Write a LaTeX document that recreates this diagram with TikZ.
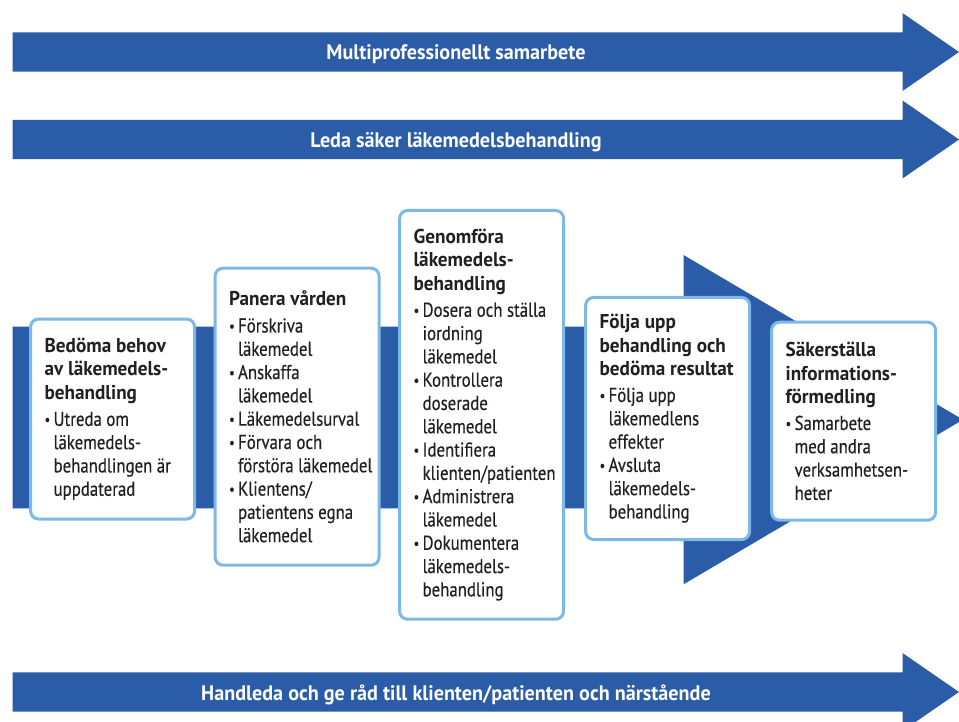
\documentclass[tikz,border=0pt]{standalone}
\usepackage{fontspec}
\setmainfont{PT Sans}[FakeStretch=0.84,
  UprightFeatures={FakeBold=0.4},
  BoldFeatures={FakeStretch=0.96}]
\usepackage{graphicx}
\usetikzlibrary{positioning}

\definecolor{flowblue}{HTML}{2A5CA8}
\definecolor{frameblue}{HTML}{7DB9E8}
\definecolor{inkblack}{HTML}{231F20}

% bullet and hanging indent for the lists in the boxes
\newcommand\itemdot{\makebox[9pt][l]{\raisebox{1.2pt}{\scalebox{0.75}{\textbullet}}}}
\newcommand\itemcont{\hspace*{9pt}}
% bold heading, then the list
\newcommand\steptext[2]{\makebox[136pt][l]{\parbox{190pt}{\raggedright
  {\bfseries #1}\\[3.3pt]#2}}}

\begin{document}
\begin{tikzpicture}[x=1pt, y=-1pt,
  band/.style={fill=flowblue},
  bandlabel/.style={anchor=base, inner sep=0pt, text=white,
    font=\fontsize{21}{24}\selectfont\bfseries},
  stepbox/.style={draw=frameblue, line width=3pt, fill=white,
    rounded corners=8pt, inner sep=0pt, minimum width=164pt,
    text=inkblack, font=\fontsize{20}{23.3}\selectfont}
]
\useasboundingbox (0,0) rectangle (959,722);
\clip (0,0) rectangle (959,722);

% three long bands with their heads
\foreach \y/\name/\txt in {52/samarbete/{Multiprofessionellt samarbete},
    139.5/leda/{Leda säker läkemedelsbehandling},
    692/handleda/{Handleda och ge råd till klienten/patienten och närstående}}{
  \fill[band] (12.5,\y-19.7) -- (902.5,\y-19.7) -- (902.5,\y-39) -- (959,\y)
    -- (902.5,\y+39) -- (902.5,\y+19.7) -- (12.5,\y+19.7) -- cycle;
  \node[bandlabel] (\name) at (456,\y+8) {\txt};
}

% the process arrow behind the boxes
\fill[band] (12.7,326.7) -- (683.5,326.7) -- (683.5,255) -- (963,419.7)
  -- (683.5,584.3) -- (683.5,508.3) -- (12.7,508.3) -- cycle;

% steps
\node[stepbox, minimum height=200pt] (bedoma) at (112.6,419)
  {\steptext{Bedöma behov\\av läkemedels-\\behandling}
   {\itemdot Utreda om\\\itemcont läkemedels-\\\itemcont behandlingen är\\\itemcont uppdaterad}};
\node[stepbox, minimum height=297pt, right=17.5pt of bedoma, yshift=2.3pt] (panera)
  {\steptext{Panera vården}
   {\itemdot Förskriva\\\itemcont läkemedel\\
    \itemdot Anskaffa\\\itemcont läkemedel\\
    \itemdot Läkemedelsurval\\
    \itemdot Förvara och\\\itemcont förstöra läkemedel\\
    \itemdot Klientens/\\\itemcont patientens egna\\\itemcont läkemedel}};
\node[stepbox, minimum height=408.7pt, right=17.5pt of panera, yshift=1.85pt] (genomfora)
  {\steptext{Genomföra\\läkemedels-\\behandling}
   {\itemdot Dosera och ställa\\\itemcont iordning\\\itemcont läkemedel\\
    \itemdot Kontrollera\\\itemcont doserade\\\itemcont läkemedel\\
    \itemdot Identifiera\\\itemcont klienten/patienten\\
    \itemdot Administrera\\\itemcont läkemedel\\
    \itemdot Dokumentera\\\itemcont läkemedels-\\\itemcont behandling}};
\node[stepbox, minimum height=242pt, right=19pt of genomfora, yshift=-3.65pt] (folja)
  {\steptext{Följa upp\\behandling och\\bedöma resultat}
   {\itemdot Följa upp\\\itemcont läkemedlens\\\itemcont effekter\\
    \itemdot Avsluta\\\itemcont läkemedels-\\\itemcont behandling}};
\node[stepbox, minimum height=198pt, right=19pt of folja, yshift=-2.7pt] (sakerstalla)
  {\steptext{Säkerställa\\informations-\\förmedling}
   {\itemdot Samarbete\\\itemcont med andra\\\itemcont verksamhetsen-\\\itemcont heter}};
\end{tikzpicture}
\end{document}
